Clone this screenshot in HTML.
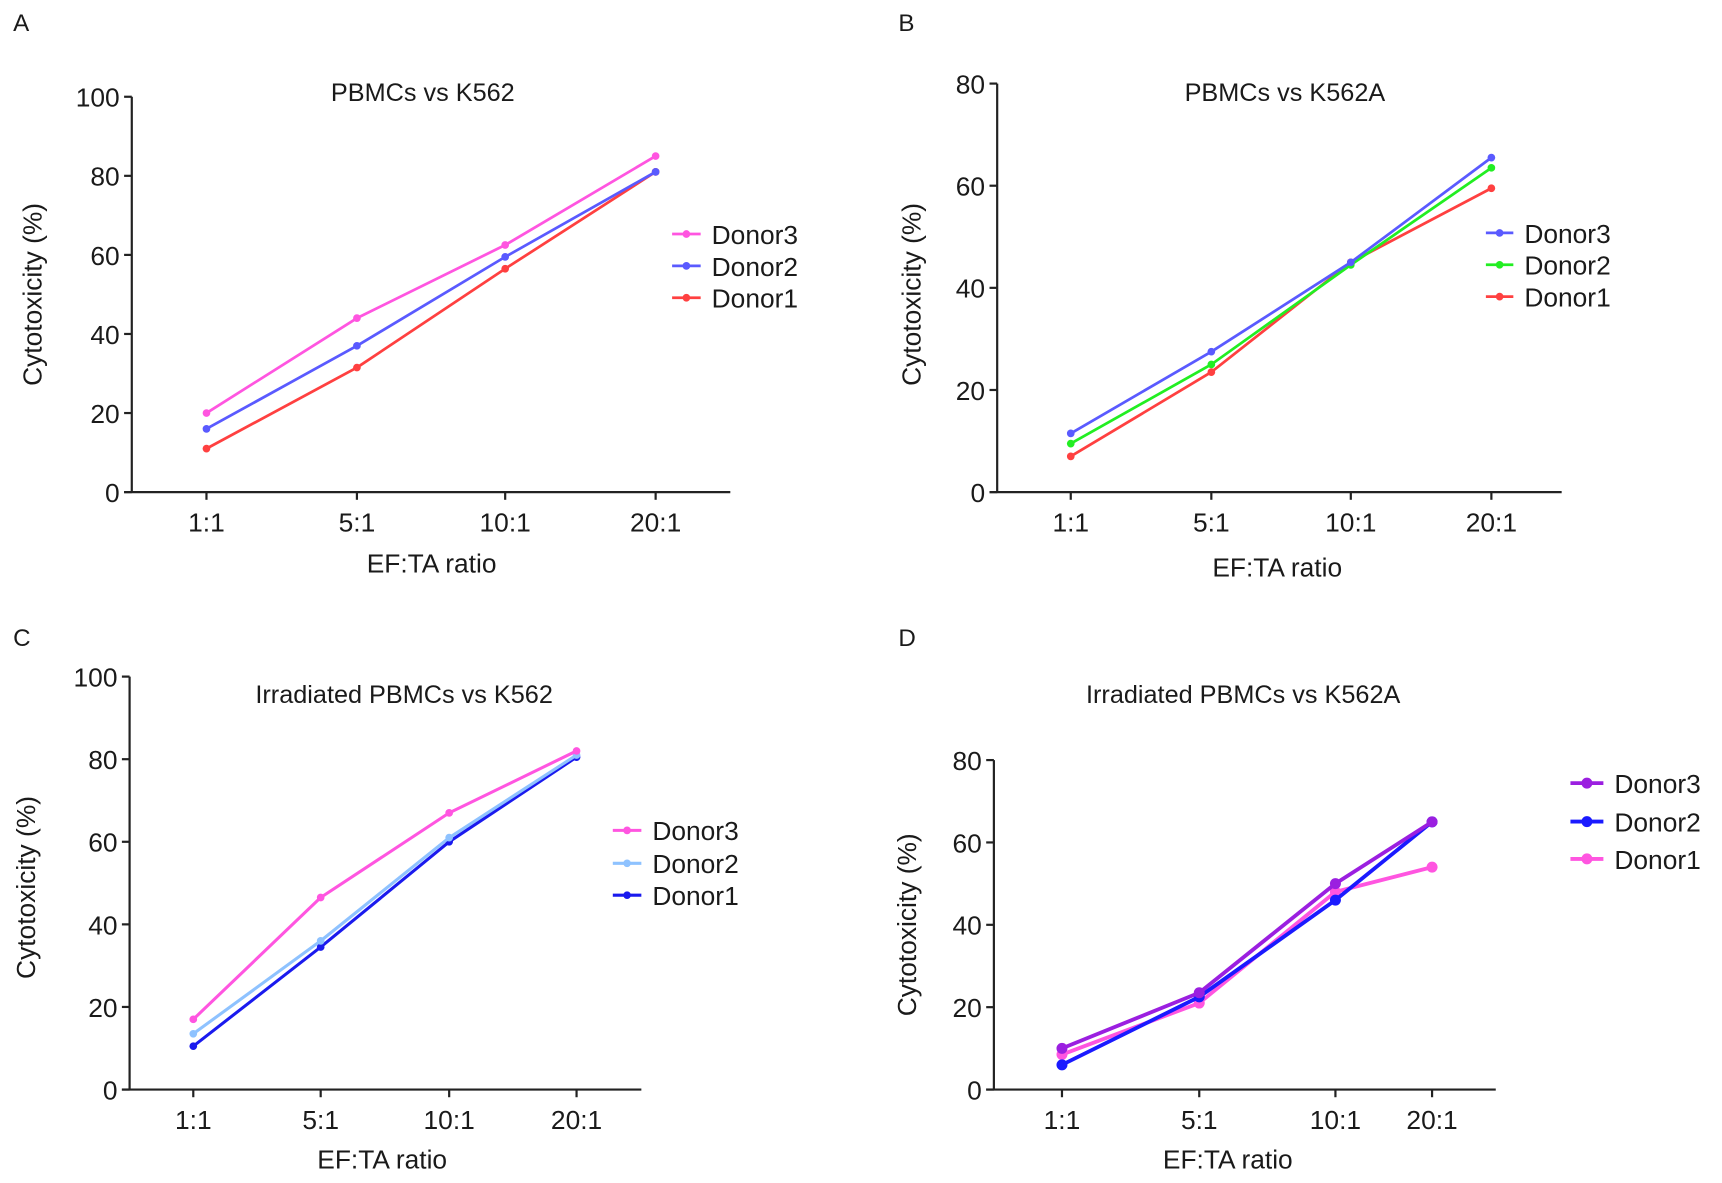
<!DOCTYPE html>
<html><head><meta charset="utf-8"><style>
html,body{margin:0;padding:0;background:#fff}
svg{display:block}
text{font-family:"Liberation Sans",Arial,sans-serif;fill:#1a1a1a}
</style></head><body>
<svg id="fig" width="1722" height="1183" viewBox="0 0 1568 1077" xmlns="http://www.w3.org/2000/svg"></svg>
<script>
const categories = ["1:1","5:1","10:1","20:1"];
const seriesNames = ["Donor3","Donor2","Donor1"];
const aDonor3 = [20,44,62.5,85];
const aDonor2 = [16,37,59.5,81];
const aDonor1 = [11,31.5,56.5,81];
const bDonor3 = [11.5,27.5,45,65.5];
const bDonor2 = [9.5,25,44.5,63.5];
const bDonor1 = [7,23.5,45,59.5];
const cDonor3 = [17,46.5,67,82];
const cDonor2 = [13.5,36,61,81];
const cDonor1 = [10.5,34.5,60,80.5];
const dDonor3 = [10,23.5,50,65];
const dDonor2 = [6,22.5,46,65];
const dDonor1 = [8.5,21,48,54];
const ticks100 = [0,20,40,60,80,100];
const ticks80 = [0,20,40,60,80];

const NS="http://www.w3.org/2000/svg";
const svg=document.getElementById('fig');
function el(tag,attrs,parent){const e=document.createElementNS(NS,tag);for(const k in attrs)e.setAttribute(k,attrs[k]);(parent||svg).appendChild(e);return e;}
function txt(s,x,y,size,anchor,parent,extra){const t=el('text',Object.assign({x:x,y:y,'font-size':size,'text-anchor':anchor||'middle'},extra||{}),parent);t.textContent=s;return t;}

const panels=[
 {id:'a',letter:'A',lx:12,ly:28,ax:120,yTop:88,yBot:448,xEnd:665,cx:[188,325,460,597],ymax:100,ticks:ticks100,title:'PBMCs vs K562',tx:385,ty:92,ylx:38,yly:268,xlx:393,xly:521,
  series:[aDonor3,aDonor2,aDonor1],colors:['#ff55e0','#5a5aff','#ff4040'],leg:{x:612,tx:648,ys:[213,242,271]},sw:2.5,r:3.5},
 {id:'b',letter:'B',lx:818,ly:28,ax:908,yTop:76,yBot:448,xEnd:1422,cx:[975,1103,1230,1358],ymax:80,ticks:ticks80,title:'PBMCs vs K562A',tx:1170,ty:92,ylx:838,yly:268,xlx:1163,xly:525,
  series:[bDonor3,bDonor2,bDonor1],colors:['#5a5aff','#22ee22','#ff4040'],leg:{x:1353,tx:1388,ys:[212,241,270]},sw:2.5,r:3.5},
 {id:'c',letter:'C',lx:12,ly:588,ax:118,yTop:616,yBot:992,xEnd:584,cx:[176,292,409,525],ymax:100,ticks:ticks100,title:'Irradiated PBMCs vs K562',tx:368,ty:640,ylx:32,yly:808,xlx:348,xly:1064,
  series:[cDonor3,cDonor2,cDonor1],colors:['#ff55e0','#8ec2ff','#1a1aee'],leg:{x:558,tx:594,ys:[756,786,815]},sw:2.8,r:3.5},
 {id:'d',letter:'D',lx:818,ly:588,ax:905,yTop:692,yBot:992,xEnd:1362,cx:[967,1092,1216,1304],ymax:80,ticks:ticks80,title:'Irradiated PBMCs vs K562A',tx:1132,ty:640,ylx:834,yly:842,xlx:1118,xly:1064,
  series:[dDonor3,dDonor2,dDonor1],colors:['#9b1fe0','#1a1aff','#ff55e0'],leg:{x:1430,tx:1470,ys:[713,748,782]},sw:3.5,r:5},
];

panels.forEach(p=>{
  const g=el('g',{});
  
  
  const yS=v=>p.yBot-(v/p.ymax)*(p.yBot-p.yTop);
  const lt=txt(p.letter,p.lx,p.ly,22,'start',g);
  
  
  const tt=txt(p.title,p.tx,p.ty,23,'middle',g);
  
  
  const ya=el('line',{x1:p.ax,y1:p.yTop,x2:p.ax,y2:p.yBot,stroke:'#222','stroke-width':2},g);
  
  
  const xa=el('line',{x1:p.ax-7,y1:p.yBot,x2:p.xEnd,y2:p.yBot,stroke:'#222','stroke-width':2},g);
  
  
  p.ticks.forEach(v=>{
    el('line',{x1:p.ax-7,y1:yS(v),x2:p.ax,y2:yS(v),stroke:'#222','stroke-width':2},g);
    const t=txt(String(v),p.ax-11,yS(v)+9,24,'end',g);
    
    
  });
  categories.forEach((c,i)=>{
    el('line',{x1:p.cx[i],y1:p.yBot,x2:p.cx[i],y2:p.yBot+7,stroke:'#222','stroke-width':2},g);
    const t=txt(c,p.cx[i],p.yBot+36,24,'middle',g);
    
    
  });
  const yl=txt('Cytotoxicity (%)',0,0,24,'middle',g,{transform:`translate(${p.ylx},${p.yly}) rotate(-90)`});
  
  
  const xl=txt('EF:TA ratio',p.xlx,p.xly,24,'middle',g);
  
  
  for(let s=p.series.length-1;s>=0;s--){
    const vals=p.series[s];
    const pts=vals.map((v,i)=>p.cx[i]+','+yS(v)).join(' ');
    const pl=el('polyline',{points:pts,fill:'none',stroke:p.colors[s],'stroke-width':p.sw,'stroke-linejoin':'round'},g);
    
    
    vals.forEach((v,i)=>{
      const c=el('circle',{cx:p.cx[i],cy:yS(v),r:p.r,fill:p.colors[s]},g);
      
      
    });
  }
  seriesNames.forEach((n,s)=>{
    const lg=el('g',{},g);
    
    
    const y=p.leg.ys[s];
    el('line',{x1:p.leg.x,y1:y,x2:p.leg.tx-10,y2:y,stroke:p.colors[s],'stroke-width':p.sw},lg);
    el('circle',{cx:(p.leg.x+p.leg.tx-10)/2,cy:y,r:p.r,fill:p.colors[s]},lg);
    txt(n,p.leg.tx,y+9,24,'start',lg);
  });
});
</script>
</body></html>
